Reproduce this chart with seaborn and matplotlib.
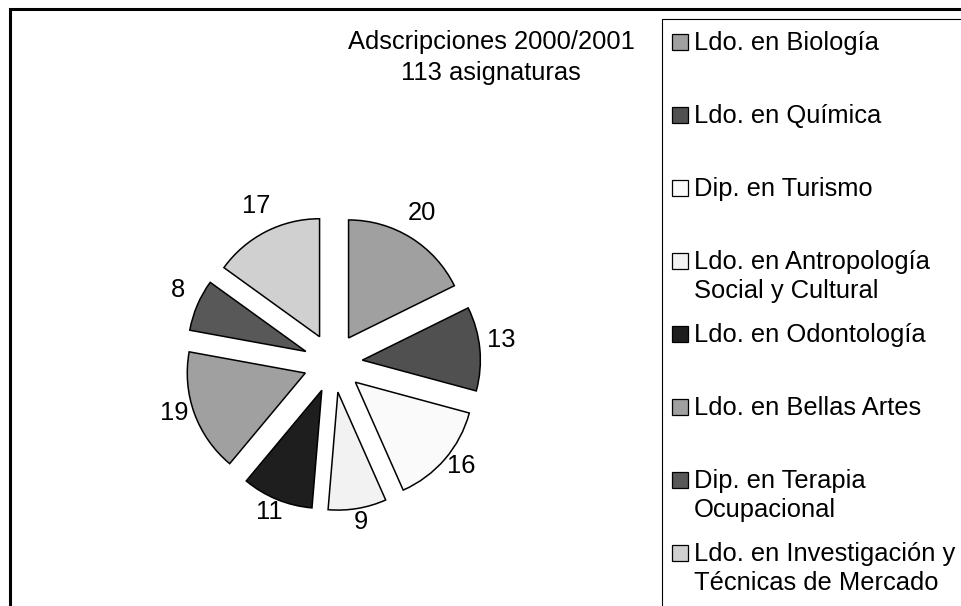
import numpy as np
import matplotlib
matplotlib.use("Agg")
import matplotlib.pyplot as plt
from matplotlib.patches import Rectangle
import seaborn as sns

# data (clockwise from 12 o'clock)
carreras = ["Ldo. en Biología", "Ldo. en Química", "Dip. en Turismo",
            "Ldo. en Antropología\nSocial y Cultural", "Ldo. en Odontología",
            "Ldo. en Bellas Artes", "Dip. en Terapia\nOcupacional",
            "Ldo. en Investigación y\nTécnicas de Mercado"]
asignaturas = [20, 13, 16, 9, 11, 19, 8, 17]
grises = ["#a0a0a0", "#505050", "#fafafa", "#f2f2f2",
          "#1e1e1e", "#a0a0a0", "#585858", "#d0d0d0"]
titulo = "Adscripciones 2000/2001\n113 asignaturas"

sns.set_theme(style="white")
plt.rcParams['font.family'] = ['Liberation Sans', 'DejaVu Sans']
plt.rcParams['text.color'] = 'black'
FS = 18.4

W, H = 962, 606
fig = plt.figure(figsize=(W / 100, H / 100), dpi=100)

# overlay in pixel units for frame + legend
frame = fig.add_axes([0, 0, 1, 1])
frame.set_xlim(0, W)
frame.set_ylim(H, 0)
frame.axis("off")
frame.plot([10, 10, W], [H, 9, 9], color="black", lw=2.2, solid_joinstyle="miter")
frame.plot([662, 662, W], [H, 19, 19], color="black", lw=0.8, solid_joinstyle="miter")

# pie, 1 unit of radius = 118 px, centre at (333, 363)
R = 118
cx, cy = 333, 363
L = 1.7
ax = fig.add_axes([(cx - L * R) / W, (H - cy - L * R) / H, 2 * L * R / W, 2 * L * R / H])
wedges, texts = ax.pie(asignaturas, labels=[str(v) for v in asignaturas], colors=grises,
                       startangle=90, counterclock=False, explode=[0.25] * len(asignaturas),
                       labeldistance=1.18,
                       wedgeprops=dict(edgecolor="black", linewidth=1.1),
                       textprops=dict(fontsize=FS, color="black"))
for t in texts:
    x, y = t.get_position()
    t.set_position((x, y + 0.06))
    t.set_ha("center")
    t.set_va("center")
ax.set_xlim(-L, L)
ax.set_ylim(-L, L)
ax.set_aspect("equal")
ax.axis("off")

fig.text(491 / W, 1 - 57.5 / H, titulo, ha="center", va="center",
         fontsize=FS, linespacing=1.32)

# legend drawn entry by entry (first line of each label aligned with its box)
for i, (lab, col) in enumerate(zip(carreras, grises)):
    base = 50 + 73 * i
    frame.add_patch(Rectangle((672, base - 16), 16, 16, facecolor=col,
                              edgecolor="black", lw=0.9))
    frame.text(694, base - 19, lab, ha="left", va="top", fontsize=FS, linespacing=1.28)

fig.savefig("out.png", dpi=100)
